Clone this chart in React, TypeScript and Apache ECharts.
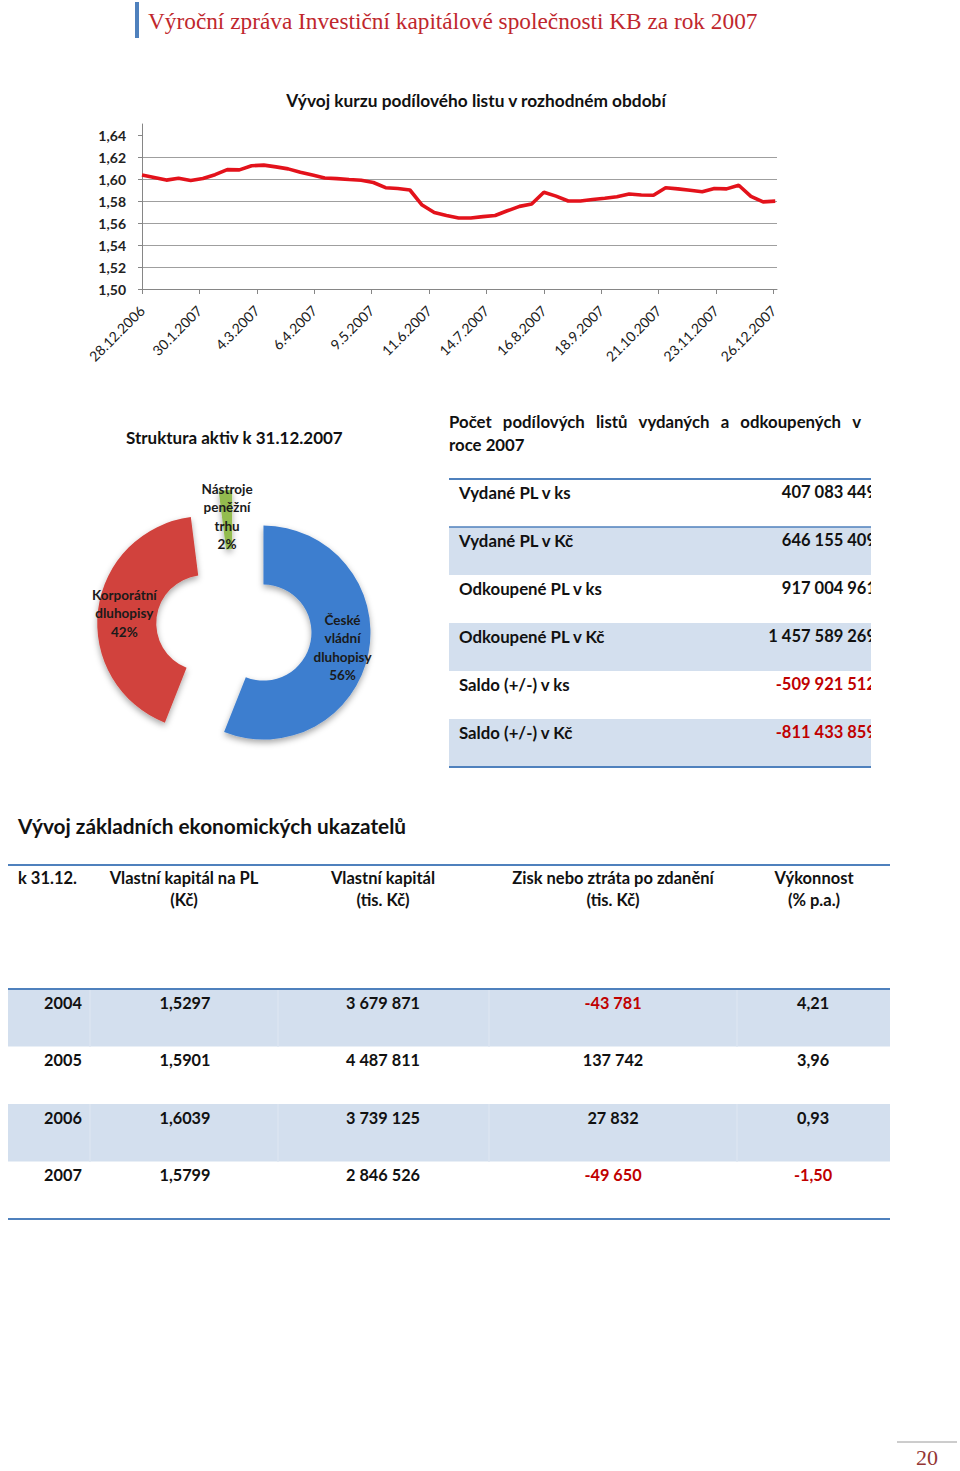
import { useEffect, useRef } from 'react';
import * as echarts from 'echarts';

// ---------- texts ----------
const pageTitle = 'Výroční zpráva Investiční kapitálové společnosti KB za rok 2007';
const pageNumber = '20';

// ---------- line chart data ----------
const lineTitle = 'Vývoj kurzu podílového listu v rozhodném období';
const priceDates = [
  '2006-12-28', '2007-01-04', '2007-01-11', '2007-01-18', '2007-01-25', '2007-02-01', '2007-02-08',
  '2007-02-15', '2007-02-22', '2007-03-01', '2007-03-08', '2007-03-15', '2007-03-22', '2007-03-29',
  '2007-04-05', '2007-04-12', '2007-04-19', '2007-04-26', '2007-05-03', '2007-05-10', '2007-05-17',
  '2007-05-24', '2007-05-31', '2007-06-07', '2007-06-14', '2007-06-21', '2007-06-28', '2007-07-05',
  '2007-07-12', '2007-07-19', '2007-07-26', '2007-08-02', '2007-08-09', '2007-08-16', '2007-08-23',
  '2007-08-30', '2007-09-06', '2007-09-13', '2007-09-20', '2007-09-27', '2007-10-04', '2007-10-11',
  '2007-10-18', '2007-10-25', '2007-11-01', '2007-11-08', '2007-11-15', '2007-11-22', '2007-11-29',
  '2007-12-06', '2007-12-13', '2007-12-20', '2007-12-27',
];
const prices = [
  1.6036, 1.6014, 1.599, 1.6007, 1.5987, 1.6005, 1.6039,
  1.6085, 1.6083, 1.612, 1.6126, 1.611, 1.6092, 1.6061,
  1.6036, 1.6009, 1.6003, 1.5995, 1.5988, 1.5968, 1.5921,
  1.5913, 1.59, 1.5763, 1.5695, 1.5669, 1.5646, 1.5645,
  1.5658, 1.5668, 1.5711, 1.5751, 1.5772, 1.588, 1.5844,
  1.58, 1.58, 1.5814, 1.5825, 1.5839, 1.5864, 1.5855,
  1.5852, 1.592, 1.591, 1.5897, 1.5884, 1.5914, 1.591,
  1.5943, 1.5842, 1.5792, 1.5799,
];
const xTickLabels = [
  '28.12.2006', '30.1.2007', '4.3.2007', '6.4.2007', '9.5.2007', '11.6.2007',
  '14.7.2007', '16.8.2007', '18.9.2007', '21.10.2007', '23.11.2007', '26.12.2007',
];
const xAxisEndDate = '2007-12-28';
const yTickValues = [1.5, 1.52, 1.54, 1.56, 1.58, 1.6, 1.62, 1.64];
const yMin = 1.5;
const yMax = 1.65;

// ---------- donut data ----------
const pieTitle = 'Struktura aktiv k 31.12.2007';
const pieNames = ['České\nvládní\ndluhopisy', 'Korporátní\ndluhopisy', 'Nástroje\npeněžní\ntrhu'];
const pieShares = [56, 42, 2];
const pieColors = ['#3E7ECF', '#D1423C', '#93BC4F'];

// ---------- table 1 ----------
const flowTitleLines = ['Počet podílových listů vydaných a odkoupených v', 'roce 2007'];
const flowLabels = [
  'Vydané PL v ks', 'Vydané PL v Kč', 'Odkoupené PL v ks',
  'Odkoupené PL v Kč', 'Saldo (+/-) v ks', 'Saldo (+/-) v Kč',
];
const flowValues = [
  '407 083 449', '646 155 409', '917 004 961',
  '1 457 589 269', '-509 921 512', '-811 433 859',
];

// ---------- table 2 ----------
const indicatorsTitle = 'Vývoj základních ekonomických ukazatelů';
const indicatorHeaders = [
  ['k 31.12.'],
  ['Vlastní kapitál na PL', '(Kč)'],
  ['Vlastní kapitál', '(tis. Kč)'],
  ['Zisk nebo ztráta po zdanění', '(tis. Kč)'],
  ['Výkonnost', '(% p.a.)'],
];
const years = ['2004', '2005', '2006', '2007'];
const navPerUnit = ['1,5297', '1,5901', '1,6039', '1,5799'];
const equity = ['3 679 871', '4 487 811', '3 739 125', '2 846 526'];
const profit = ['-43 781', '137 742', '27 832', '-49 650'];
const performance = ['4,21', '3,96', '0,93', '-1,50'];

// ---------- styles ----------
const SANS = 'Lato';
const BLUE_LINE = '#4F81BD';
const BAND = '#D3DFEE';
const NEG = '#C00000';
const TXT = '#111111';

function dayOffset(iso: string, base: string): number {
  const a = Date.parse(iso + 'T00:00:00Z');
  const b = Date.parse(base + 'T00:00:00Z');
  return Math.round((a - b) / 86400000);
}
function czToIso(s: string): string {
  const [d, m, y] = s.split('.');
  return `${y}-${m.padStart(2, '0')}-${d.padStart(2, '0')}`;
}

function buildOption() {
  const base = priceDates[0];
  const lineData = priceDates.map((d, i) => [dayOffset(d, base), prices[i]]);
  const xTickDays = xTickLabels.map((l) => dayOffset(czToIso(l), base));
  const xMax = dayOffset(xAxisEndDate, base);
  const labelByDay: Record<number, string> = {};
  xTickDays.forEach((d, i) => (labelByDay[d] = xTickLabels[i]));

  const els: any[] = [];
  const text = (x: number, y: number, t: string, o: any = {}) =>
    els.push({
      type: 'text', x, y, z: o.z ?? 3, silent: true,
      style: {
        text: t, fill: o.fill ?? TXT, fontFamily: o.fontFamily ?? SANS,
        fontSize: o.fontSize ?? 16, fontWeight: o.fontWeight ?? 'bold',
        align: o.align ?? 'left', verticalAlign: 'middle',
      },
    });
  const line = (x1: number, y1: number, x2: number, y2: number, stroke: string, w: number, z = 2) =>
    els.push({ type: 'line', z, silent: true, shape: { x1, y1, x2, y2 }, style: { stroke, lineWidth: w } });
  const rect = (x: number, y: number, w: number, h: number, fill: string, z = 1) =>
    els.push({ type: 'rect', z, silent: true, shape: { x, y, width: w, height: h }, style: { fill } });

  // header
  rect(135, 2, 4, 36, '#4F81BD');
  text(148, 21, pageTitle, { fill: '#C0272D', fontFamily: 'Liberation Serif', fontSize: 23.3, fontWeight: 'normal' });

  // line chart title
  text(476, 100, lineTitle, { align: 'center', fontSize: 17.3 });

  // donut title
  text(126, 437, pieTitle, { fontSize: 17 });

  // table 1 heading (justified first line)
  const ctx = document.createElement('canvas').getContext('2d')!;
  const headFont = `bold 16.8px ${SANS}`;
  ctx.font = headFont;
  const words = flowTitleLines[0].split(' ');
  const widths = words.map((w) => ctx.measureText(w).width);
  const totalW = widths.reduce((a, b) => a + b, 0);
  const jx0 = 449, jx1 = 861;
  const gap = (jx1 - jx0 - totalW) / (words.length - 1);
  let cx = jx0;
  words.forEach((w, i) => {
    text(cx, 421, w, { fontSize: 16.8 });
    cx += widths[i] + gap;
  });
  text(449, 444, flowTitleLines[1], { fontSize: 16.8 });

  // table 1
  const t1L = 449, t1R = 871, t1Top = 479, t1H = 48;
  flowLabels.forEach((lab, i) => {
    const top = t1Top + i * t1H;
    if (i % 2 === 1) rect(t1L, top, t1R - t1L, t1H, BAND);
    text(459, top + 13, lab, { fontSize: 16.8 });
    const v = flowValues[i];
    text(876, top + 13, v, { fontSize: 16.5, align: 'right', fill: v.startsWith('-') ? NEG : TXT });
  });
  line(t1L, t1Top, t1R, t1Top, BLUE_LINE, 2);
  line(t1L, t1Top + t1H, t1R, t1Top + t1H, BLUE_LINE, 1.5);
  line(t1L, t1Top + 6 * t1H, t1R, t1Top + 6 * t1H, BLUE_LINE, 2);
  rect(871, 470, 89, 305, '#ffffff', 10);

  // table 2
  text(18, 825, indicatorsTitle, { fontSize: 20.8 });
  const t2L = 8, t2R = 890;
  line(t2L, 865, t2R, 865, BLUE_LINE, 2);
  const headCenters = [0, 184, 383, 613, 814];
  indicatorHeaders.forEach((h, i) => {
    h.forEach((ln, j) => {
      if (i === 0) text(18, 878 + j * 22, ln, { fontSize: 16.5 });
      else text(headCenters[i], 878 + j * 22, ln, { fontSize: 16.5, align: 'center' });
    });
  });
  const t2Top = 989, t2H = 57.5;
  const colCenters = [63, 185, 383, 613, 813];
  const seps = [90, 278, 489, 737];
  years.forEach((y, i) => {
    const top = t2Top + i * t2H;
    if (i % 2 === 0) {
      rect(t2L, top, t2R - t2L, t2H, BAND);
      seps.forEach((sx) => line(sx, top, sx, top + t2H, '#D9E3F0', 2, 1.5));
    }
    const cells = [y, navPerUnit[i], equity[i], profit[i], performance[i]];
    cells.forEach((c, j) => {
      text(colCenters[j], top + 13, c, {
        fontSize: 16.3, align: 'center', fill: c.startsWith('-') ? NEG : TXT,
      });
    });
  });
  line(t2L, t2Top, t2R, t2Top, BLUE_LINE, 2);
  line(t2L, t2Top + 4 * t2H, t2R, t2Top + 4 * t2H, BLUE_LINE, 2);

  // page number
  line(897, 1442, 957, 1442, '#9a9a9a', 1);
  text(927, 1457, pageNumber, { align: 'center', fill: '#943634', fontFamily: 'Liberation Serif', fontSize: 22, fontWeight: 'normal' });

  return {
    animation: false,
    backgroundColor: '#ffffff',
    grid: { left: 142, top: 124, width: 635, height: 165, containLabel: false },
    xAxis: {
      type: 'value', min: 0, max: xMax, interval: 33,
      axisLine: { show: true, lineStyle: { color: '#868686', width: 1 } },
      axisTick: { show: true, length: 5, customValues: xTickDays, lineStyle: { color: '#868686' } },
      axisLabel: {
        customValues: xTickDays, rotate: 45, margin: 19,
        formatter: (v: number) => labelByDay[Math.round(v)] ?? '',
        fontFamily: SANS, fontSize: 14, color: '#1a1a1a',
      },
      splitLine: { show: false },
    },
    yAxis: {
      type: 'value', min: yMin, max: yMax, interval: 0.02,
      axisLine: { show: true, lineStyle: { color: '#868686', width: 1 } },
      axisTick: { show: true, length: 4, customValues: yTickValues, lineStyle: { color: '#868686' } },
      axisLabel: {
        customValues: yTickValues, margin: 16,
        formatter: (v: number) => v.toFixed(2).replace('.', ','),
        fontFamily: SANS, fontSize: 14, fontWeight: 'bold', color: '#222',
      },
      splitLine: { show: true, showMaxLine: false, lineStyle: { color: '#9f9f9f', width: 1 } },
    },
    graphic: { elements: els },
    series: [
      {
        type: 'line', data: lineData, showSymbol: false, symbol: 'none',
        lineStyle: { color: '#E3121B', width: 3.6 }, itemStyle: { color: '#E3121B' },
        emphasis: { disabled: true }, z: 3,
      },
      {
        type: 'pie', center: [234, 627], radius: [48, 107], startAngle: 90, clockwise: true,
        selectedMode: 'multiple', selectedOffset: 30,
        avoidLabelOverlap: false,
        emphasis: { disabled: true },
        label: {
          show: true, position: 'inside',
          formatter: (p: any) => `${p.name}\n${p.value}%`,
          fontFamily: SANS, fontSize: 13.5, fontWeight: 'bold', color: '#1a1a1a', lineHeight: 18.5,
        },
        labelLine: { show: false },
        itemStyle: { shadowBlur: 6, shadowColor: 'rgba(0,0,0,0.35)', shadowOffsetY: 3 },
        data: pieNames.map((n, i) => ({
          name: n, value: pieShares[i], selected: true, itemStyle: { color: pieColors[i] },
        })),
      },
    ],
  };
}

export default function App() {
  const ref = useRef<HTMLDivElement>(null);
  useEffect(() => {
    if (!ref.current) return;
    const chart = echarts.init(ref.current, undefined, { renderer: 'svg' });
    chart.setOption(buildOption() as any);
    return () => chart.dispose();
  }, []);
  return (
    <div
      ref={ref}
      style={{ position: 'absolute', left: 0, top: 0, width: 960, height: 1471, background: '#fff' }}
    />
  );
}
